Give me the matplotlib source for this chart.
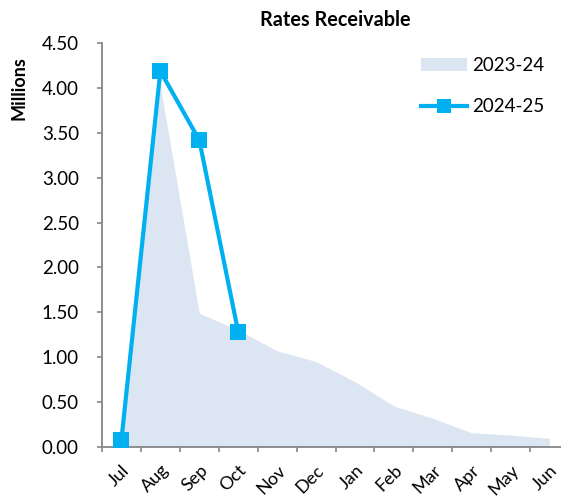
import matplotlib
matplotlib.use("Agg")
import matplotlib.pyplot as plt
from matplotlib.patches import Patch
from matplotlib.lines import Line2D

plt.rcParams['font.family'] = ['Lato', 'DejaVu Sans']

months = ["Jul", "Aug", "Sep", "Oct", "Nov", "Dec", "Jan", "Feb", "Mar", "Apr", "May", "Jun"]
fy2324 = [0.10, 4.02, 1.49, 1.30, 1.07, 0.95, 0.725, 0.455, 0.317, 0.156, 0.13, 0.093]
fy2425 = [0.08, 4.19, 3.42, 1.28]
yticks = [0.0, 0.5, 1.0, 1.5, 2.0, 2.5, 3.0, 3.5, 4.0, 4.5]

W, H = 561, 498
fig = plt.figure(figsize=(W/100, H/100), dpi=100)
ax = fig.add_axes([102/W, 1 - 446.7/H, (569-102)/W, (446.7-43.3)/H])

x = list(range(len(months)))
ax.fill_between(x, fy2324, 0, color='#DCE6F2', linewidth=0, zorder=1)
ax.plot(x[:len(fy2425)], fy2425, color='#00B0F0', linewidth=3.0, marker='s',
        markersize=11, markeredgewidth=0, zorder=3)

ax.set_xlim(-0.5, len(months) - 0.5)
ax.set_ylim(0, 4.5)
ax.set_yticks(yticks)
ax.set_yticklabels([f"{v:.2f}" for v in yticks], fontsize=13.5)
ax.set_xticks(x)
ax.set_xticklabels(months, fontsize=13, rotation=45, ha='right', va='top',
                   rotation_mode='anchor')
ax.set_xticks([i - 0.5 for i in range(len(months) + 1)], minor=True)
ax.tick_params(axis='x', which='major', length=0, pad=11)
ax.tick_params(axis='x', which='minor', length=3.6, color='#868686', width=1.2)
ax.tick_params(axis='y', length=3.6, color='#868686', width=1.2, pad=13)
for s in ['top', 'right']:
    ax.spines[s].set_visible(False)
for s in ['left', 'bottom']:
    ax.spines[s].set_color('#868686')
    ax.spines[s].set_linewidth(1.3)

fig.text(335.5/W, 1 - 20/H, "Rates Receivable", ha='center', va='center',
         fontsize=14.3, fontweight='bold')
fig.text(19/W, 1 - 88/H, "Millions", ha='center', va='center', rotation=90,
         fontsize=13, fontweight='bold')

handles = [Patch(facecolor='#DCE6F2', edgecolor='none', label='2023-24'),
           Line2D([], [], color='#00B0F0', linewidth=3.0, marker='s', markersize=10,
                  markeredgewidth=0, label='2024-25')]
fig.legend(handles=handles, loc='upper left', bbox_to_anchor=(421/W, 1 - 57/H),
           frameon=False, fontsize=13.5, handlelength=2.45, labelspacing=1.3,
           handletextpad=0.25, borderpad=0, borderaxespad=0)

fig.savefig("out.png", dpi=100)
